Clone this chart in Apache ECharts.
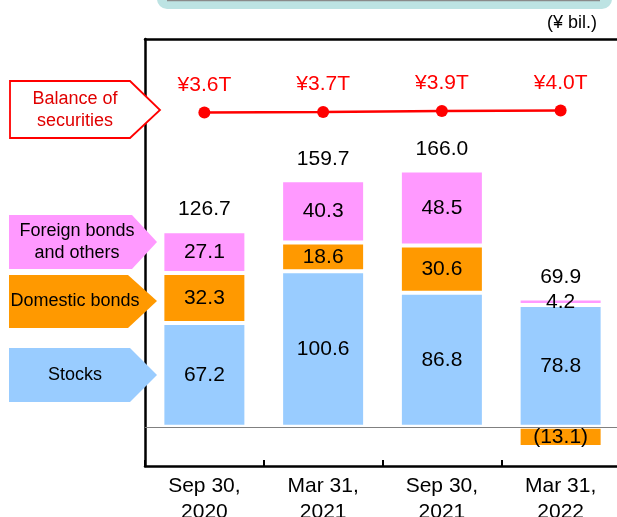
<!DOCTYPE html>
<html lang="en">
<head>
    <meta charset="UTF-8">
    <title>Securities balance</title>
    <script src="https://cdn.jsdelivr.net/npm/echarts@6/dist/echarts.min.js"></script>
    <style>
        html, body { margin: 0; padding: 0; background: #fff; }
        #my { width: 617px; height: 517px; }
    </style>
</head>
<body>
<div id="my"></div>
<script>
    // data (¥ bil.)
    var categories = ['Sep 30,\n2020', 'Mar 31,\n2021', 'Sep 30,\n2021', 'Mar 31,\n2022']
    var stocks = [67.2, 100.6, 86.8, 78.8]
    var domesticBonds = [32.3, 18.6, 30.6, -13.1]
    var foreignBonds = [27.1, 40.3, 48.5, 4.2]
    var totals = [126.7, 159.7, 166.0, 69.9]
    var balanceT = [3.6, 3.7, 3.9, 4.0] // ¥ trillion

    var font = 'Liberation Sans, Arial, sans-serif'

    // top of the positive stack, used only to hang the total labels
    var stackTop = []
    for (var i = 0; i < categories.length; i++) {
        var s = 0
        ;[stocks, domesticBonds, foreignBonds].forEach(function (arr) {
            if (arr[i] > 0) s += arr[i]
        })
        stackTop.push([i, s])
    }

    function valueLabel(p) {
        var v = p.value
        return v < 0 ? '(' + (-v).toFixed(1) + ')' : v.toFixed(1)
    }

    var barLabel = {
        show: true,
        position: 'inside',
        color: '#000',
        fontSize: 21,
        fontFamily: font,
        formatter: valueLabel
    }

    function callout(pts, fill, stroke, text, color, cx, cy) {
        return [{
            type: 'polygon',
            shape: { points: pts },
            style: { fill: fill, stroke: stroke, lineWidth: stroke ? 1.8 : 0 },
            z: 10
        }, {
            type: 'text',
            x: cx, y: cy,
            style: {
                text: text, fill: color, fontSize: 18, fontFamily: font,
                align: 'center', verticalAlign: 'middle', lineHeight: 22
            },
            z: 11
        }]
    }

    var graphics = [
        { type: 'rect', shape: { x: 157, y: -22, width: 455, height: 31, r: 10 },
          style: { fill: '#bde3e3' }, z: 1 },
        { type: 'line', shape: { x1: 167, y1: 0.5, x2: 600, y2: 0.5 },
          style: { stroke: '#8a8a8a', lineWidth: 1.5 }, z: 2 },
        { type: 'text', x: 597, y: 23,
          style: { text: '(¥ bil.)', fill: '#000', fontSize: 18, fontFamily: font,
                   align: 'right', verticalAlign: 'middle' } }
    ]
    graphics = graphics
        .concat(callout([[10, 81], [130, 81], [160, 110], [130, 138], [10, 138]],
            '#fff', '#ff0000', 'Balance of\nsecurities', '#e00000', 75, 110))
        .concat(callout([[9, 215], [132, 215], [157, 242], [132, 269], [9, 269]],
            '#ff99ff', null, 'Foreign bonds\nand others', '#000', 77, 242))
        .concat(callout([[9, 275], [128, 275], [157, 301], [128, 328], [9, 328]],
            '#ff9900', null, 'Domestic bonds', '#000', 75, 301))
        .concat(callout([[9, 348], [130, 348], [157, 375], [130, 402], [9, 402]],
            '#99ccff', null, 'Stocks', '#000', 75, 375))

    var mCharts = echarts.init(document.getElementById('my'))
    var option = {
        animation: false,
        textStyle: { fontFamily: font },
        grid: { left: 145, right: -3, top: 39, bottom: 51, containLabel: false, outerBoundsMode: 'none' },
        xAxis: [{
            type: 'category',
            data: categories,
            position: 'bottom',
            axisLine: { onZero: false, lineStyle: { color: '#000', width: 2.5 } },
            axisTick: { show: true, inside: true, length: 6, lineStyle: { color: '#000', width: 2 } },
            axisLabel: { color: '#000', fontSize: 21, lineHeight: 26, margin: 7, fontFamily: font }
        }, {
            type: 'category',
            data: categories,
            position: 'top',
            axisLine: { onZero: false, lineStyle: { color: '#000', width: 2.5 } },
            axisTick: { show: false },
            axisLabel: { show: false }
        }],
        yAxis: [{
            type: 'value',
            min: -25.4,
            max: 251,
            axisLine: { show: true, lineStyle: { color: '#000', width: 2.5 } },
            axisTick: { show: false },
            axisLabel: { show: false },
            splitLine: { show: false }
        }, {
            type: 'value',
            min: -67,
            max: 18.3,
            show: false
        }],
        graphic: graphics,
        series: [
            {
                name: 'Stocks',
                type: 'bar',
                stack: 'sec',
                barWidth: 84,
                data: stocks,
                itemStyle: { color: '#99ccff', borderColor: '#fff', borderWidth: 2 },
                label: barLabel,
                markLine: {
                    silent: true,
                    symbol: 'none',
                    label: { show: false },
                    lineStyle: { color: '#808080', width: 1.2, type: 'solid' },
                    data: [{ yAxis: 0 }]
                }
            },
            {
                name: 'Domestic bonds',
                type: 'bar',
                stack: 'sec',
                data: domesticBonds,
                itemStyle: { color: '#ff9900', borderColor: '#fff', borderWidth: 2 },
                label: barLabel
            },
            {
                name: 'Foreign bonds and others',
                type: 'bar',
                stack: 'sec',
                data: foreignBonds,
                itemStyle: { color: '#ff99ff', borderColor: '#fff', borderWidth: 2 },
                label: barLabel
            },
            {
                name: 'Total',
                type: 'scatter',
                symbolSize: 0,
                data: stackTop,
                itemStyle: { opacity: 1 },
                label: {
                    show: true,
                    position: 'top',
                    distance: 11,
                    color: '#000',
                    opacity: 1,
                    fontSize: 21,
                    fontFamily: font,
                    formatter: function (p) { return totals[p.dataIndex].toFixed(1) }
                },
                z: 5
            },
            {
                name: 'Balance of securities',
                type: 'line',
                yAxisIndex: 1,
                data: balanceT,
                symbol: 'circle',
                symbolSize: 12,
                itemStyle: { color: '#ff0000' },
                lineStyle: { color: '#ff0000', width: 2.5 },
                label: {
                    show: true,
                    position: 'top',
                    distance: 11,
                    color: '#ff0000',
                    fontSize: 21,
                    fontFamily: font,
                    formatter: function (p) { return '¥' + p.value.toFixed(1) + 'T' }
                },
                z: 6
            }
        ]
    }
    mCharts.setOption(option)
    window.onresize = mCharts.resize
</script>
</body>
</html>
